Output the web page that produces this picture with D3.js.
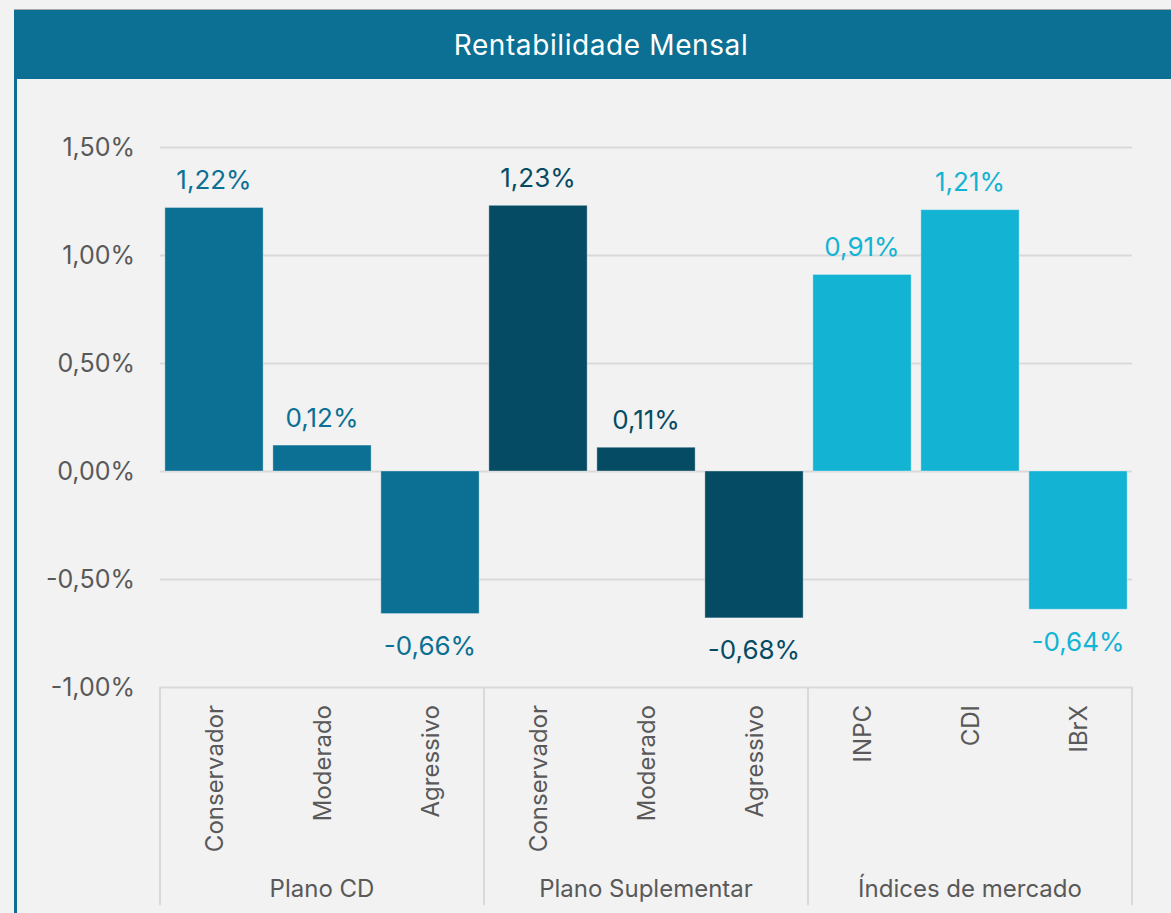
<!DOCTYPE html>
<html>
<head>
<meta charset="utf-8">
<script src="https://cdn.jsdelivr.net/npm/d3@7"></script>
<style>
  body { margin: 0; background: #f2f2f2; }
  svg { display: block; font-family: Inter, "Noto Sans", sans-serif; }
</style>
</head>
<body>
<svg id="chart"></svg>
<script>
// chart data
var groups = ["Plano CD", "Plano Suplementar", "Índices de mercado"]
var categories = ["Conservador", "Moderado", "Agressivo", "Conservador", "Moderado", "Agressivo", "INPC", "CDI", "IBrX"]
var groupOf = [0, 0, 0, 1, 1, 1, 2, 2, 2]
var values = [1.22, 0.12, -0.66, 1.23, 0.11, -0.68, 0.91, 1.21, -0.64]
var yTicks = [-1.0, -0.5, 0, 0.5, 1.0, 1.5]
var groupColors = ["#0b7093", "#054b63", "#12b3d3"]

var dimensions = {
  width: 1171,
  height: 913,
  margin: { top: 147, bottom: 226, left: 160, right: 39 }
}
dimensions.boundedWidth = dimensions.width - dimensions.margin.left - dimensions.margin.right
dimensions.boundedHeight = dimensions.height - dimensions.margin.top - dimensions.margin.bottom

var svg = d3.select("#chart")
  .attr("width", dimensions.width)
  .attr("height", dimensions.height)

svg.append("rect")
  .attr("width", dimensions.width).attr("height", dimensions.height)
  .attr("fill", "#f2f2f2")

// header bar + frame
svg.append("line")
  .attr("x1", 14).attr("x2", dimensions.width).attr("y1", 9.5).attr("y2", 9.5)
  .attr("stroke", "#a6a6a6").attr("stroke-width", 1)
svg.append("rect")
  .attr("x", 14).attr("y", 10).attr("width", dimensions.width - 14).attr("height", 69)
  .attr("fill", "#0b7093")
svg.append("line")
  .attr("x1", 15.5).attr("x2", 15.5).attr("y1", 79).attr("y2", dimensions.height)
  .attr("stroke", "#0b7093").attr("stroke-width", 3)
svg.append("text")
  .attr("x", 601).attr("y", 45)
  .attr("text-anchor", "middle").attr("dominant-baseline", "central")
  .attr("fill", "#ffffff").style("font-size", "28px").style("letter-spacing", "0.6px")
  .text("Rentabilidade Mensal")

var xScale = d3.scaleBand()
  .domain(d3.range(categories.length))
  .range([0, dimensions.boundedWidth])
  .paddingInner(0.09).paddingOuter(0.045)

var yScale = d3.scaleLinear()
  .domain([-1.0, 1.5])
  .range([dimensions.boundedHeight, 0])

var bounds = svg.append("g")
  .attr("transform", `translate(${dimensions.margin.left},${dimensions.margin.top})`)

var fmt = v => d3.format(".2f")(v).replace(".", ",").replace("−", "-") + "%"

// gridlines + y labels
var yAxis = d3.axisLeft(yScale)
  .tickValues(yTicks)
  .tickSize(-dimensions.boundedWidth)
  .tickPadding(25)
  .tickFormat(fmt)

var yAxisG = bounds.append("g").call(yAxis)
yAxisG.select(".domain").remove()
yAxisG.selectAll("line").attr("stroke", "#d9d9d9").attr("stroke-width", 2)
yAxisG.selectAll("text")
  .attr("fill", "#595959")
  .style("font-size", "25px")
  .style("font-family", "Inter, \"Noto Sans\", sans-serif")

// bars
bounds.selectAll(".bar")
  .data(values)
  .enter()
  .append("rect")
  .attr("class", "bar")
  .attr("x", (d, i) => xScale(i))
  .attr("width", xScale.bandwidth())
  .attr("y", d => yScale(Math.max(0, d)))
  .attr("height", d => Math.abs(yScale(d) - yScale(0)))
  .attr("fill", (d, i) => groupColors[groupOf[i]])
  .attr("stroke", "#ffffff").attr("stroke-opacity", 0.35).attr("stroke-width", 1)

// value labels
bounds.selectAll(".val")
  .data(values)
  .enter()
  .append("text")
  .attr("class", "val")
  .attr("x", (d, i) => xScale(i) + xScale.bandwidth() / 2)
  .attr("y", d => d >= 0 ? yScale(d) - 28 : yScale(d) + 32)
  .attr("text-anchor", "middle").attr("dominant-baseline", "central")
  .attr("fill", (d, i) => groupColors[groupOf[i]])
  .style("font-size", "26px")
  .text(fmt)

// category axis boxes
var groupW = dimensions.boundedWidth / groups.length
var axisTop = dimensions.boundedHeight
var axisG = bounds.append("g")

axisG.selectAll(".sep")
  .data(d3.range(groups.length + 1))
  .enter()
  .append("line")
  .attr("x1", d => d * groupW).attr("x2", d => d * groupW)
  .attr("y1", axisTop).attr("y2", axisTop + 218)
  .attr("stroke", "#d9d9d9").attr("stroke-width", 2)

axisG.selectAll(".cat")
  .data(categories)
  .enter()
  .append("text")
  .attr("class", "cat")
  .attr("transform", (d, i) => `translate(${xScale(i) + xScale.bandwidth() / 2},${axisTop + 18}) rotate(-90)`)
  .attr("text-anchor", "end").attr("dominant-baseline", "central")
  .attr("fill", "#595959")
  .style("font-size", "24px")
  .text(d => d)

axisG.selectAll(".grp")
  .data(groups)
  .enter()
  .append("text")
  .attr("class", "grp")
  .attr("x", (d, i) => i * groupW + groupW / 2)
  .attr("y", axisTop + 201)
  .attr("text-anchor", "middle").attr("dominant-baseline", "central")
  .attr("fill", "#595959")
  .style("font-size", "24px")
  .text(d => d)
</script>
</body>
</html>
